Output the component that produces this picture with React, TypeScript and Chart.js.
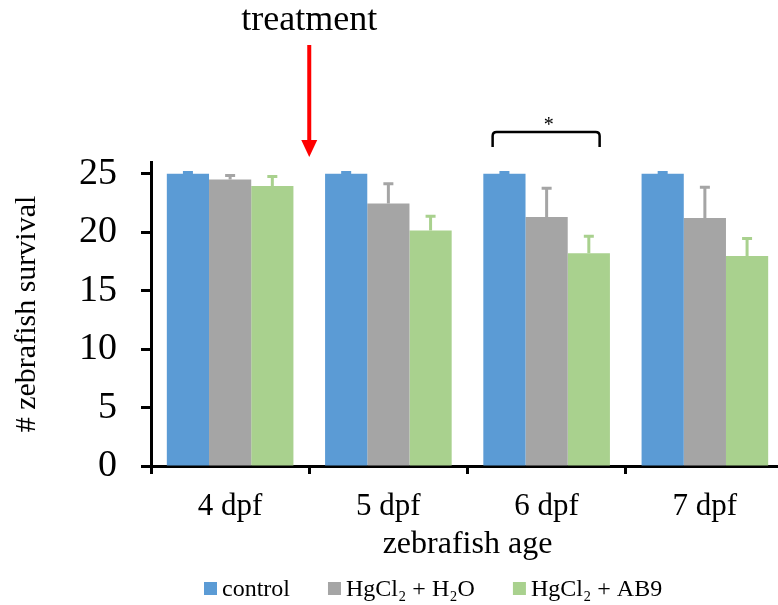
import React, { useEffect, useRef } from "react";
import { Chart, registerables } from "chart.js";

Chart.register(...registerables);

const categories = ["4 dpf", "5 dpf", "6 dpf", "7 dpf"];
const seriesNames = ["control", "HgCl₂ + H₂O", "HgCl₂ + AB9"];
const controlValues = [25, 25, 25, 25];
const hgH2OValues = [24.5, 22.45, 21.3, 21.2];
const hgAB9Values = [23.95, 20.15, 18.2, 17.95];
const controlErrors = [0.1, 0.1, 0.1, 0.1];
const hgH2OErrors = [0.35, 1.7, 2.45, 2.65];
const hgAB9Errors = [0.8, 1.2, 1.45, 1.5];
const seriesColors = ["#5B9BD5", "#A5A5A5", "#A9D18E"];
const yTicks = [0, 5, 10, 15, 20, 25];
const yMax = 26;
const annotationText = "treatment";
const significanceText = "*";
const xTitle = "zebrafish age";
const yTitle = "# zebrafish survival";

const FONT = "'Liberation Serif', 'Times New Roman', Times, serif";
const errorSets = [controlErrors, hgH2OErrors, hgAB9Errors];

const errorBarPlugin = {
  id: "errorBars",
  afterDatasetsDraw(chart: any) {
    const ctx = chart.ctx;
    const yScale = chart.scales.y;
    chart.data.datasets.forEach((ds: any, i: number) => {
      const meta = chart.getDatasetMeta(i);
      const errs = errorSets[i];
      meta.data.forEach((bar: any, j: number) => {
        const v = ds.data[j];
        const top = yScale.getPixelForValue(v + errs[j]);
        ctx.save();
        ctx.strokeStyle = seriesColors[i];
        ctx.lineWidth = 3;
        ctx.beginPath();
        ctx.moveTo(bar.x, bar.y);
        ctx.lineTo(bar.x, top);
        ctx.moveTo(bar.x - 5, top);
        ctx.lineTo(bar.x + 5, top);
        ctx.stroke();
        ctx.restore();
      });
    });
  },
};

const annotationPlugin = {
  id: "annotations",
  afterDraw(chart: any) {
    const ctx = chart.ctx;
    const xs = chart.scales.x;
    const top = chart.chartArea.top;
    ctx.save();
    // treatment arrow at boundary between first two categories
    const ax = (xs.getPixelForValue(0) + xs.getPixelForValue(1)) / 2;
    ctx.fillStyle = "#000";
    ctx.font = `36px ${FONT}`;
    ctx.textAlign = "center";
    ctx.textBaseline = "alphabetic";
    ctx.fillText(annotationText, ax, 30);
    ctx.fillStyle = "#FF0000";
    ctx.fillRect(ax - 2, 45, 4, top - 22 - 45 + 2);
    ctx.beginPath();
    ctx.moveTo(ax - 8, top - 22);
    ctx.lineTo(ax + 8, top - 22);
    ctx.lineTo(ax, top - 5);
    ctx.closePath();
    ctx.fill();

    // significance bracket over third category
    const cx = xs.getPixelForValue(2);
    const l = cx - 54;
    const r = cx + 53;
    const by = top - 30;
    const bb = top - 15;
    const rad = 4;
    ctx.strokeStyle = "#000";
    ctx.lineWidth = 2.5;
    ctx.beginPath();
    ctx.moveTo(l, bb);
    ctx.lineTo(l, by + rad);
    ctx.quadraticCurveTo(l, by, l + rad, by);
    ctx.lineTo(r - rad, by);
    ctx.quadraticCurveTo(r, by, r, by + rad);
    ctx.lineTo(r, bb);
    ctx.stroke();
    ctx.fillStyle = "#000";
    ctx.font = `20px ${FONT}`;
    ctx.fillText(significanceText, cx + 2, top - 31);

    // legend
    ctx.font = `24px ${FONT}`;
    ctx.textAlign = "left";
    ctx.textBaseline = "alphabetic";
    let lx = 204;
    const boxTop = 582;
    const baseY = 596;
    seriesNames.forEach((name, i) => {
      ctx.fillStyle = seriesColors[i];
      ctx.fillRect(lx, boxTop, 13, 13);
      ctx.fillStyle = "#000";
      ctx.fillText(name, lx + 18, baseY);
      lx += 18 + ctx.measureText(name).width + 38;
    });
    ctx.restore();
  },
};

export default function App() {
  const ref = useRef<HTMLCanvasElement | null>(null);
  useEffect(() => {
    if (!ref.current) return;
    const datasets = [controlValues, hgH2OValues, hgAB9Values].map((d, i) => ({
      label: seriesNames[i],
      data: d,
      backgroundColor: seriesColors[i],
      borderWidth: 0,
      categoryPercentage: 0.8,
      barPercentage: 1,
    }));
    const chart = new Chart(ref.current, {
      type: "bar",
      data: { labels: categories, datasets },
      options: {
        responsive: false,
        animation: false,
        layout: { padding: { top: 162, left: 0, right: 6, bottom: 39 } },
        plugins: { legend: { display: false }, tooltip: { enabled: false } },
        scales: {
          x: {
            grid: {
              offset: true,
              drawOnChartArea: false,
              drawTicks: true,
              tickLength: 8,
              tickWidth: 3,
              tickColor: "#000",
              color: "#000",
            },
            border: { color: "#000", width: 3 },
            ticks: { color: "#000", font: { family: FONT, size: 31 }, padding: 14 },
            title: {
              display: true,
              text: xTitle,
              color: "#000",
              font: { family: FONT, size: 32 },
              padding: { top: 0, bottom: 2 },
            },
            afterFit: (s: any) => {
              s.height = 100;
            },
          },
          y: {
            min: 0,
            max: yMax,
            afterBuildTicks: (s: any) => {
              s.ticks = yTicks.map((v) => ({ value: v }));
            },
            grid: {
              drawOnChartArea: false,
              tickLength: 10,
              tickWidth: 3,
              tickColor: "#000",
              color: "#000",
            },
            border: { color: "#000", width: 3 },
            ticks: { color: "#000", font: { family: FONT, size: 38 }, padding: 24 },
            title: {
              display: true,
              text: yTitle,
              color: "#000",
              font: { family: FONT, size: 30 },
              padding: { top: 9, bottom: 0 },
            },
            afterFit: (s: any) => {
              s.width = 151;
            },
          },
        },
      } as any,
      plugins: [errorBarPlugin, annotationPlugin],
    });
    return () => chart.destroy();
  }, []);
  return (
    <div
      style={{
        position: "fixed",
        left: 0,
        top: 0,
        width: 778,
        height: 605,
        overflow: "hidden",
        background: "#fff",
      }}
    >
      <canvas ref={ref} width={790} height={605} style={{ display: "block" }} />
    </div>
  );
}
